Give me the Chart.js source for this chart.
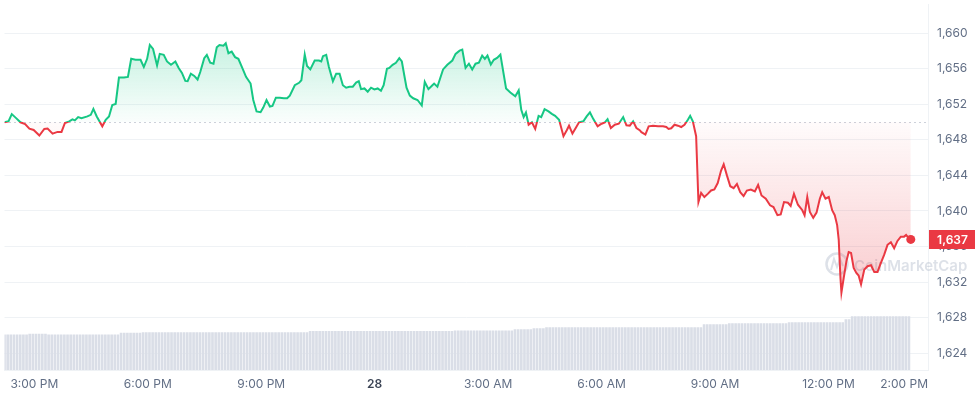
<!DOCTYPE html>
<html>
<head>
<meta charset="utf-8">
<script src="https://cdn.jsdelivr.net/npm/chart.js@4/dist/chart.umd.min.js"></script>
<style>
  html, body { margin: 0; padding: 0; background: #fff; }
  #wrap { width: 975px; height: 396px; position: relative; }
</style>
</head>
<body>
<div id="wrap"><canvas id="chart"></canvas></div>
<script>
// time in hours from midnight of the 27th (24 = midnight, "28")
const priceTimes = [
  14.211, 14.316, 14.403, 14.518, 14.632, 14.755, 14.868, 14.982, 15.132, 15.263,
  15.350, 15.482, 15.613, 15.718, 15.808, 15.921, 16.008, 16.071, 16.158, 16.245,
  16.403, 16.492, 16.561, 16.650, 16.797, 16.887, 16.974, 17.061, 17.150, 17.237,
  17.368, 17.474, 17.561, 17.676, 17.808, 17.895, 17.982, 18.053, 18.139, 18.245,
  18.316, 18.421, 18.508, 18.613, 18.729, 18.816, 18.903, 18.992, 19.053, 19.139,
  19.229, 19.316, 19.387, 19.492, 19.561, 19.650, 19.737, 19.824, 19.895, 20.000,
  20.061, 20.132, 20.218, 20.308, 20.395, 20.526, 20.597, 20.718, 20.789, 20.876,
  20.982, 21.053, 21.139, 21.229, 21.297, 21.387, 21.492, 21.597, 21.684, 21.755,
  21.887, 22.000, 22.061, 22.150, 22.211, 22.297, 22.413, 22.526, 22.587, 22.632,
  22.718, 22.789, 22.895, 22.982, 23.071, 23.158, 23.245, 23.334, 23.421, 23.508,
  23.579, 23.639, 23.729, 23.816, 23.903, 23.992, 24.079, 24.166, 24.237, 24.324,
  24.387, 24.474, 24.561, 24.650, 24.718, 24.782, 24.842, 24.929, 25.018, 25.132,
  25.245, 25.324, 25.421, 25.526, 25.571, 25.658, 25.808, 25.921, 26.053, 26.139,
  26.245, 26.316, 26.403, 26.492, 26.579, 26.666, 26.755, 26.842, 26.913, 26.982,
  27.071, 27.150, 27.237, 27.324, 27.474, 27.587, 27.718, 27.808, 27.876, 27.939,
  28.000, 28.071, 28.158, 28.245, 28.334, 28.403, 28.492, 28.597, 28.684, 28.771,
  28.876, 28.992, 29.079, 29.139, 29.229, 29.316, 29.403, 29.518, 29.605, 29.692,
  29.782, 29.895, 30.000, 30.087, 30.158, 30.245, 30.350, 30.455, 30.571, 30.658,
  30.745, 30.834, 30.921, 31.008, 31.053, 31.158, 31.245, 31.361, 31.492, 31.624,
  31.711, 31.771, 31.842, 31.929, 32.018, 32.105, 32.192, 32.282, 32.342, 32.413,
  32.500, 32.561, 32.632, 32.718, 32.808, 32.895, 32.982, 33.071, 33.158, 33.229,
  33.316, 33.403, 33.492, 33.579, 33.666, 33.755, 33.842, 33.947, 34.053, 34.139,
  34.229, 34.342, 34.455, 34.545, 34.650, 34.737, 34.824, 34.929, 35.000, 35.087,
  35.192, 35.308, 35.368, 35.439, 35.508, 35.597, 35.684, 35.771, 35.834, 35.921,
  36.008, 36.097, 36.166, 36.229, 36.271, 36.316, 36.342, 36.403, 36.474, 36.534,
  36.597, 36.666, 36.737, 36.797, 36.861, 36.947, 37.034, 37.124, 37.211, 37.297,
  37.368, 37.474, 37.561, 37.650, 37.737, 37.824, 37.913, 38.000, 38.053, 38.113,
  38.176
];

const prices = [
  1649.97, 1650.08, 1650.89, 1650.44, 1649.97, 1649.78, 1649.26, 1649.11, 1648.48, 1649.22,
  1649.26, 1648.70, 1648.89, 1648.89, 1649.89, 1650.08, 1650.30, 1650.19, 1650.56, 1650.44,
  1650.63, 1650.81, 1651.48, 1650.63, 1649.52, 1650.26, 1650.63, 1651.92, 1652.03, 1655.00,
  1655.00, 1655.08, 1657.11, 1657.00, 1657.00, 1656.19, 1657.11, 1658.67, 1658.22, 1656.37,
  1657.67, 1657.56, 1656.81, 1656.44, 1656.81, 1656.08, 1655.52, 1654.63, 1654.59, 1655.44,
  1655.19, 1654.78, 1655.63, 1657.19, 1657.56, 1656.67, 1656.56, 1658.41, 1658.67, 1658.59,
  1658.86, 1657.74, 1657.92, 1657.30, 1657.11, 1655.81, 1655.08, 1654.33, 1652.48, 1651.19,
  1651.11, 1651.63, 1652.48, 1651.74, 1651.81, 1652.74, 1652.74, 1652.67, 1652.67, 1652.97,
  1654.14, 1654.41, 1654.70, 1657.59, 1656.30, 1655.92, 1656.92, 1656.92, 1656.81, 1657.41,
  1657.56, 1656.19, 1654.59, 1655.44, 1655.44, 1654.14, 1653.86, 1653.97, 1653.97, 1654.44,
  1654.59, 1653.70, 1653.78, 1653.41, 1653.86, 1653.67, 1653.78, 1653.52, 1654.14, 1656.00,
  1656.08, 1656.44, 1656.67, 1657.19, 1656.81, 1655.26, 1653.86, 1652.97, 1652.67, 1652.48,
  1651.86, 1654.52, 1653.70, 1654.14, 1654.33, 1653.97, 1655.92, 1656.44, 1656.92, 1657.67,
  1658.03, 1658.14, 1656.08, 1656.56, 1655.92, 1656.56, 1656.67, 1657.48, 1657.11, 1657.48,
  1656.48, 1657.00, 1657.22, 1657.59, 1653.78, 1653.33, 1652.89, 1653.56, 1651.37, 1650.56,
  1651.08, 1649.70, 1649.97, 1649.22, 1650.70, 1650.56, 1651.44, 1651.19, 1650.92, 1650.70,
  1650.26, 1648.41, 1649.08, 1649.59, 1648.70, 1649.33, 1649.97, 1650.08, 1650.63, 1651.08,
  1650.33, 1649.52, 1649.81, 1649.97, 1650.33, 1649.33, 1649.70, 1649.81, 1650.56, 1649.63,
  1649.59, 1650.08, 1649.33, 1649.08, 1648.86, 1648.59, 1649.52, 1649.59, 1649.52, 1649.52,
  1649.44, 1649.22, 1649.30, 1649.70, 1649.59, 1649.44, 1649.70, 1650.26, 1650.70, 1650.08,
  1648.41, 1641.00, 1642.03, 1641.56, 1641.92, 1642.30, 1642.41, 1643.14, 1644.52, 1645.26,
  1643.97, 1642.78, 1642.56, 1643.03, 1642.11, 1641.67, 1642.30, 1642.41, 1642.19, 1642.92,
  1641.74, 1641.37, 1640.63, 1640.44, 1639.52, 1639.61, 1641.00, 1640.92, 1640.56, 1641.92,
  1640.70, 1640.08, 1639.52, 1641.56, 1639.89, 1639.22, 1639.81, 1641.37, 1642.11, 1641.37,
  1641.56, 1640.08, 1639.52, 1638.41, 1636.74, 1632.48, 1630.81, 1632.48, 1634.33, 1635.37,
  1635.26, 1633.59, 1633.03, 1632.74, 1631.74, 1633.41, 1633.78, 1633.89, 1633.14, 1633.14,
  1633.97, 1635.08, 1636.19, 1636.48, 1635.81, 1636.63, 1637.11, 1637.11, 1637.30, 1637.00,
  1636.80
];

// 24h volume, billions, one bar every 5 minutes starting at volumeStart
const volumeStart = 14.2105;
const volumes = [
  4.46, 4.46, 4.46, 4.46, 4.46, 4.46, 4.46, 4.46,
  4.54, 4.54, 4.54, 4.54, 4.54, 4.54,
  4.46, 4.46, 4.46, 4.46, 4.46, 4.46, 4.46, 4.46, 4.46, 4.46,
  4.46, 4.46, 4.46, 4.46, 4.46, 4.46, 4.46, 4.46, 4.46, 4.46,
  4.46, 4.46, 4.46,
  4.66, 4.66, 4.66, 4.66, 4.66, 4.66, 4.66,
  4.75, 4.75, 4.75, 4.75, 4.75, 4.75, 4.75, 4.75, 4.75, 4.75,
  4.75, 4.75, 4.75, 4.75, 4.75, 4.75, 4.75, 4.75, 4.75, 4.75,
  4.75, 4.75, 4.75, 4.75, 4.75, 4.75, 4.75, 4.75, 4.75, 4.75,
  4.75, 4.75, 4.75, 4.75, 4.75, 4.75, 4.75, 4.75, 4.75, 4.75,
  4.75, 4.75, 4.75, 4.75, 4.75, 4.75, 4.75, 4.75, 4.75, 4.75,
  4.75, 4.75, 4.75,
  4.88, 4.88, 4.88, 4.88, 4.88, 4.88, 4.88, 4.88, 4.88, 4.88,
  4.88, 4.88, 4.88, 4.88, 4.88, 4.88, 4.88, 4.88, 4.88, 4.88,
  4.88, 4.88, 4.88, 4.88, 4.88, 4.88, 4.88, 4.88, 4.88, 4.88,
  4.88, 4.88, 4.88, 4.88, 4.88, 4.88, 4.88, 4.88, 4.88, 4.88,
  4.88, 4.88, 4.88, 4.88, 4.88, 4.88,
  4.96, 4.96, 4.96, 4.96, 4.96, 4.96, 4.96, 4.96, 4.96, 4.96,
  4.96, 4.96, 4.96, 4.96, 4.96, 4.96, 4.96, 4.96, 4.96,
  5.13, 5.13, 5.13, 5.13, 5.13, 5.13,
  5.25, 5.25, 5.25, 5.25,
  5.38, 5.38, 5.38, 5.38, 5.38, 5.38, 5.38, 5.38, 5.38, 5.38,
  5.38, 5.38, 5.38, 5.38, 5.38, 5.38, 5.38, 5.38, 5.38, 5.38,
  5.38, 5.38, 5.38, 5.38, 5.38, 5.38, 5.38, 5.38, 5.38, 5.38,
  5.38, 5.38, 5.38, 5.38, 5.38, 5.38, 5.38, 5.38, 5.38, 5.38,
  5.38, 5.38, 5.38, 5.38, 5.38, 5.38, 5.38, 5.38, 5.38, 5.38,
  5.75, 5.75, 5.75, 5.75, 5.75, 5.75, 5.75, 5.75,
  5.88, 5.88, 5.88, 5.88, 5.88, 5.88, 5.88, 5.88, 5.88, 5.88,
  5.88, 5.88, 5.88, 5.88, 5.88, 5.88, 5.88, 5.88, 5.88,
  6.00, 6.00, 6.00, 6.00, 6.00, 6.00, 6.00, 6.00, 6.00, 6.00,
  6.00, 6.00, 6.00, 6.00, 6.00, 6.00, 6.00, 6.00,
  6.38, 6.38,
  6.75, 6.75, 6.75, 6.75, 6.75, 6.75, 6.75, 6.75, 6.75, 6.75,
  6.75, 6.75, 6.75, 6.75, 6.75, 6.75, 6.75, 6.75, 6.75
];

const tickHours = [15, 18, 21, 24, 27, 30, 33, 36, 38];
const tickLabels = ['3:00 PM', '6:00 PM', '9:00 PM', '28', '3:00 AM', '6:00 AM', '9:00 AM', '12:00 PM', '2:00 PM'];
const priceTicks = [1624, 1628, 1632, 1636, 1640, 1644, 1648, 1652, 1656, 1660];
const openPrice = 1650;

const GREEN = '#16c784';
const RED = '#ea3943';
const FONT = 'Inter, "Noto Sans", sans-serif';

function lineColor(context) {
  const chart = context.chart;
  const area = chart.chartArea;
  if (!area) return GREEN;
  const y0 = chart.scales.y.getPixelForValue(openPrice);
  const t = Math.min(Math.max((y0 - area.top) / (area.bottom - area.top), 0), 1);
  const g = chart.ctx.createLinearGradient(0, area.top, 0, area.bottom);
  g.addColorStop(0, GREEN);
  g.addColorStop(t, GREEN);
  g.addColorStop(t, RED);
  g.addColorStop(1, RED);
  return g;
}

function areaColor(context) {
  const chart = context.chart;
  if (!chart.chartArea) return 'rgba(0,0,0,0)';
  const ys = chart.scales.y;
  const top = ys.getPixelForValue(Math.max(...prices));
  const bot = ys.getPixelForValue(Math.min(...prices));
  const y0 = ys.getPixelForValue(openPrice);
  const t = (y0 - top) / (bot - top);
  const g = chart.ctx.createLinearGradient(0, top, 0, bot);
  g.addColorStop(0, 'rgba(22,199,132,0.24)');
  g.addColorStop(t, 'rgba(22,199,132,0.02)');
  g.addColorStop(t, 'rgba(234,57,67,0.02)');
  g.addColorStop(1, 'rgba(234,57,67,0.26)');
  return g;
}

// dotted line at the opening price
const baselinePlugin = {
  id: 'baseline',
  beforeDatasetsDraw(chart) {
    const { ctx, chartArea, scales } = chart;
    const y = Math.round(scales.y.getPixelForValue(openPrice)) + 0.5;
    ctx.save();
    ctx.strokeStyle = '#9aa3b5';
    ctx.lineWidth = 1;
    ctx.setLineDash([1, 4]);
    ctx.beginPath();
    ctx.moveTo(chartArea.left, y);
    ctx.lineTo(chartArea.right, y);
    ctx.stroke();
    ctx.restore();
  }
};

// faint CoinMarketCap watermark
const watermarkPlugin = {
  id: 'watermark',
  beforeDatasetsDraw(chart) {
    const { ctx } = chart;
    ctx.save();
    ctx.strokeStyle = 'rgba(170,180,198,0.4)';
    ctx.fillStyle = 'rgba(170,180,198,0.4)';
    ctx.lineWidth = 2.5;
    ctx.beginPath();
    ctx.arc(837, 264, 10.5, 0, Math.PI * 2);
    ctx.stroke();
    ctx.lineWidth = 2;
    ctx.beginPath();
    ctx.moveTo(831, 270);
    ctx.lineTo(834, 259);
    ctx.lineTo(837, 267);
    ctx.lineTo(840, 259);
    ctx.lineTo(843, 266);
    ctx.stroke();
    ctx.font = '600 15px ' + FONT;
    ctx.textBaseline = 'alphabetic';
    ctx.fillText('CoinMarketCap', 854, 271);
    ctx.restore();
  }
};

// red badge with the last price on the price axis
const lastPricePlugin = {
  id: 'lastPrice',
  afterDraw(chart) {
    const { ctx, chartArea, scales, width } = chart;
    const last = prices[prices.length - 1];
    const y = scales.y.getPixelForValue(last);
    ctx.save();
    ctx.fillStyle = RED;
    ctx.fillRect(chartArea.right + 1, Math.round(y - 9.5), width - chartArea.right - 1, 19);
    ctx.fillStyle = '#fff';
    ctx.font = '600 12px ' + FONT;
    ctx.textAlign = 'center';
    ctx.textBaseline = 'middle';
    ctx.fillText(Math.round(last).toLocaleString('en-US'), (chartArea.right + width) / 2 + 1, y + 0.5);
    ctx.restore();
  }
};

const chart = new Chart(document.getElementById('chart'), {
  data: {
    datasets: [
      {
        type: 'line',
        label: 'Price',
        data: priceTimes.map((t, i) => ({ x: t, y: prices[i] })),
        yAxisID: 'y',
        order: 0,
        borderColor: lineColor,
        backgroundColor: areaColor,
        borderWidth: 2,
        tension: 0,
        fill: { value: openPrice },
        pointRadius: (ctx) => (ctx.dataIndex === prices.length - 1 ? 4.5 : 0),
        pointBackgroundColor: RED,
        pointBorderWidth: 0,
        pointHoverRadius: 0
      },
      {
        type: 'bar',
        label: 'Volume',
        data: volumes.map((v, i) => ({ x: volumeStart + i / 12, y: v })),
        yAxisID: 'yv',
        order: 1,
        backgroundColor: '#dadee7',
        borderWidth: 0,
        barThickness: 2
      }
    ]
  },
  options: {
    responsive: true,
    maintainAspectRatio: false,
    animation: false,
    layout: { padding: 0 },
    plugins: {
      legend: { display: false },
      tooltip: { enabled: false }
    },
    scales: {
      x: {
        type: 'linear',
        min: 14.2105,
        max: 38.6316,
        offset: false,
        grid: { display: false, drawTicks: false },
        border: { display: true, color: '#eff2f5' },
        afterBuildTicks: (s) => { s.ticks = tickHours.map((v) => ({ value: v })); },
        afterFit: (s) => { s.height = 26; s.paddingLeft = 0; s.paddingRight = 0; },
        ticks: {
          autoSkip: false,
          maxRotation: 0,
          padding: 7,
          color: (ctx) => (tickLabels[ctx.index] === '28' ? '#3b4455' : '#616e85'),
          font: (ctx) => ({ family: FONT, size: 12, weight: tickLabels[ctx.index] === '28' ? '600' : '400' }),
          callback: (v, i) => tickLabels[i]
        }
      },
      y: {
        position: 'right',
        min: 1622.11,
        max: 1663.22,
        grid: { color: '#eff2f5', drawTicks: false },
        border: { display: true, color: '#eff2f5' },
        afterBuildTicks: (s) => { s.ticks = priceTicks.map((v) => ({ value: v })); },
        afterFit: (s) => { s.width = 47; s.paddingTop = 0; s.paddingBottom = 0; },
        ticks: {
          padding: 9,
          color: '#616e85',
          font: { family: FONT, size: 12 },
          callback: (v) => v.toLocaleString('en-US')
        }
      },
      yv: {
        display: false,
        min: 0,
        max: 46.25
      }
    }
  },
  plugins: [baselinePlugin, watermarkPlugin, lastPricePlugin]
});
</script>
</body>
</html>
